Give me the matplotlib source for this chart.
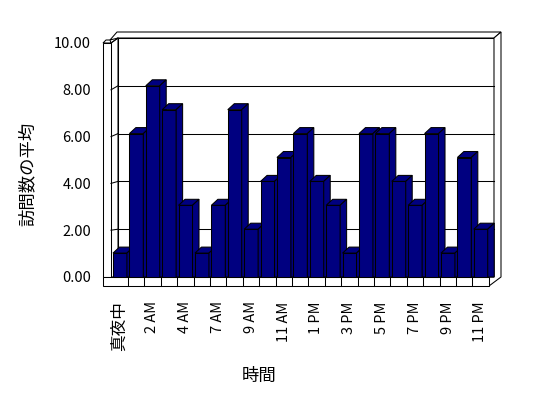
import matplotlib.pyplot as plt
from matplotlib.patches import Polygon, Rectangle
import numpy as np

plt.rcParams['font.family'] = ['Noto Sans CJK JP', 'DejaVu Sans']

# hours of the day (one hour missing in the source), labels shown every other slot
hours = ["真夜中", "1 AM", "2 AM", "3 AM", "4 AM", "6 AM", "7 AM", "8 AM", "9 AM",
         "10 AM", "11 AM", "12 PM", "1 PM", "2 PM", "3 PM", "4 PM", "5 PM", "6 PM",
         "7 PM", "8 PM", "9 PM", "10 PM", "11 PM"]
visits = [1, 6, 8, 7, 3, 1, 3, 7, 2, 4, 5, 6, 4, 3, 1, 6, 6, 4, 3, 6, 1, 5, 2]
yticks = [0, 2, 4, 6, 8, 10]

W, H = 548, 398
# pixel layout of the pseudo-3D frame
X0, SW = 111.5, 16.4     # left of first slot, slot width (px)
Y0, YS = 277, 23.9       # baseline, px per unit
navy = "#000080"
lw = 0.75


def dx(px):
    return (px - X0) / SW


def dy(py):
    return (Y0 - py) / YS


def poly(pts, **kw):
    kw.setdefault("facecolor", "white")
    return Polygon([(dx(a), dy(b)) for a, b in pts], closed=True,
                   edgecolor="black", lw=lw, clip_on=False, **kw)


fig = plt.figure(figsize=(W / 100, H / 100), dpi=100)
L, R, T, B = 103, 501, 32, 286
ax = fig.add_axes([L / W, 1 - B / H, (R - L) / W, (B - T) / H])
ax.set_xlim(dx(L), dx(R))
ax.set_ylim(dy(B), dy(T))
ax.set_facecolor("none")
for s in ax.spines.values():
    s.set_visible(False)

# walls and floor
ax.add_patch(poly([(118, 38), (494, 38), (494, 277), (118, 277)], zorder=1))
ax.add_patch(poly([(110, 40), (117, 32), (501, 32), (494, 38), (118, 38)], zorder=1))
ax.add_patch(poly([(494, 38), (501, 32), (501, 277), (489, 286), (489, 277), (494, 277)], zorder=1))
ax.add_patch(poly([(111, 43), (118, 38), (118, 277), (111, 277)], zorder=1))
ax.add_patch(poly([(103, 43), (106, 40), (110, 40), (111, 43)], zorder=1))
ax.add_patch(poly([(103, 43), (111, 43), (111, 277), (103, 277)], zorder=1))
ax.add_patch(poly([(103, 277), (489, 277), (489, 286), (103, 286)], zorder=1))
for k in range(1, len(hours)):
    ax.plot([k, k], [dy(286), 0], color="black", lw=lw, zorder=1.5, clip_on=False)

# gridlines on the back wall and slanted ticks on the side wall
front = 23.4 / YS
for v in yticks[1:-1]:
    ax.plot([dx(118), dx(494)], [v, v], color="black", lw=lw, zorder=1.5)
for v in yticks[1:]:
    ax.plot([dx(111), dx(118)], [v * front, v], color="black", lw=lw, zorder=1.5, clip_on=False)

# bars with top and side faces
bw = 0.85
ddx, ddy = 6.5 / SW, 6 / YS
for i, v in enumerate(visits):
    z = 3 + i * 0.01
    xl = i + 0.09
    xr = xl + bw
    ax.bar(xl, v, width=bw, align="edge", color=navy, edgecolor="black", lw=lw, zorder=z)
    ax.add_patch(Polygon([(xl, v), (xr, v), (xr + ddx, v + ddy), (xl + ddx, v + ddy)],
                         facecolor=navy, edgecolor="black", lw=lw, zorder=z, clip_on=False))
    ax.add_patch(Polygon([(xr, 0), (xr, v), (xr + ddx, v + ddy), (xr + ddx, 0)],
                         facecolor=navy, edgecolor="black", lw=lw, zorder=z, clip_on=False))

ax.set_xticks(np.arange(0, len(hours), 2) + 0.5, hours[::2], rotation=90)
ax.set_yticks([v * front for v in yticks], [f"{v:.2f}" for v in yticks])
ax.tick_params(axis="x", length=0, pad=11, labelsize=10.5)
ax.tick_params(axis="y", length=0, pad=8.5, labelsize=10.5)
ax.get_xticklabels()[0].set_fontsize(12)

fig.text(259 / W, 1 - 376 / H, "時間", ha="center", va="center", fontsize=12.5)
fig.text(28 / W, 1 - 174 / H, "訪問数の平均", ha="center", va="center", rotation=90, fontsize=12.5)

fig.savefig("out.png", dpi=100, facecolor="white")
